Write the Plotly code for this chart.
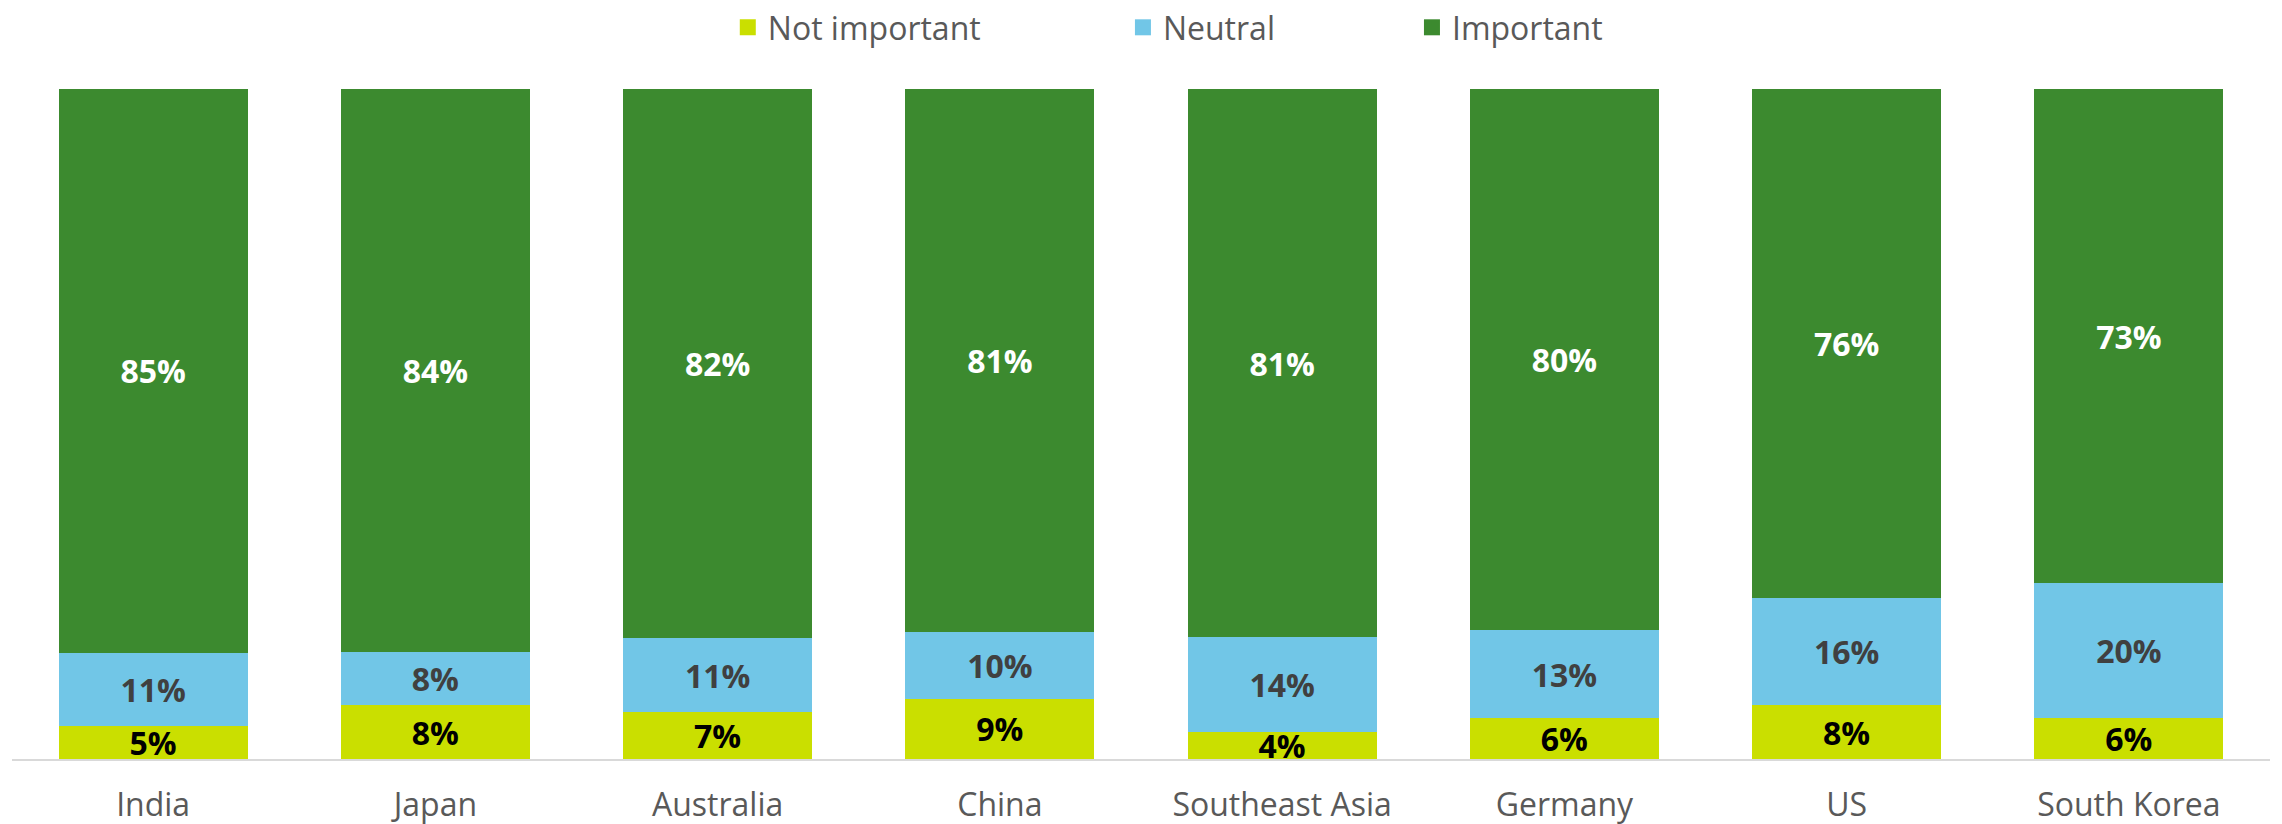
import plotly.graph_objects as go

# Survey share by market
countries = ["India", "Japan", "Australia", "China", "Southeast Asia",
             "Germany", "US", "South Korea"]
not_important = [5, 8, 7, 9, 4, 6, 8, 6]
neutral = [11, 8, 11, 10, 14, 13, 16, 20]
important = [85, 84, 82, 81, 81, 80, 76, 73]

series = [
    ("Not important", not_important, "#CADF00", "#000000"),
    ("Neutral", neutral, "#71C6E7", "#404040"),
    ("Important", important, "#3C8A2F", "#FFFFFF"),
]

# left edge (paper fraction) of each legend entry
legend_x = [0.317, 0.492, 0.620]
legend_ids = ["legend", "legend2", "legend3"]

fig = go.Figure()
for (name, vals, color, txt_color), lid in zip(series, legend_ids):
    fig.add_trace(go.Bar(
        x=countries, y=vals, name=name, showlegend=False,
        marker=dict(color=color, line=dict(width=0)),
        text=vals, texttemplate="%{text}%", textposition="inside",
        insidetextanchor="middle", constraintext="none",
        textfont=dict(family="Open Sans", size=32, color=txt_color,
                      weight="bold"),
        cliponaxis=False, hoverinfo="skip",
    ))
    # legend swatch
    fig.add_trace(go.Scatter(
        x=[None], y=[None], mode="markers", name=name, legend=lid,
        marker=dict(symbol="square", size=17, color=color),
    ))

legend_style = dict(orientation="h", xanchor="left", yref="container",
                    y=1.0, yanchor="top", bgcolor="rgba(0,0,0,0)",
                    font=dict(family="Open Sans", size=32, color="#595959"),
                    itemsizing="trace")

fig.update_layout(
    width=2282, height=824,
    barmode="stack", barnorm="percent", bargap=0.33,
    plot_bgcolor="white", paper_bgcolor="white",
    margin=dict(l=12, r=12, t=89, b=65),
    font=dict(family="Open Sans", color="#595959"),
    xaxis=dict(showline=True, linecolor="#D9D9D9", linewidth=2,
               ticks="", tickfont=dict(size=32, color="#595959"),
               ticklabelstandoff=17, automargin=False, showgrid=False),
    yaxis=dict(range=[0, 100.001], visible=False, showgrid=False),
)
for lid, lx in zip(legend_ids, legend_x):
    fig.update_layout({lid: dict(legend_style, x=lx)})

fig.write_html("out.html")
